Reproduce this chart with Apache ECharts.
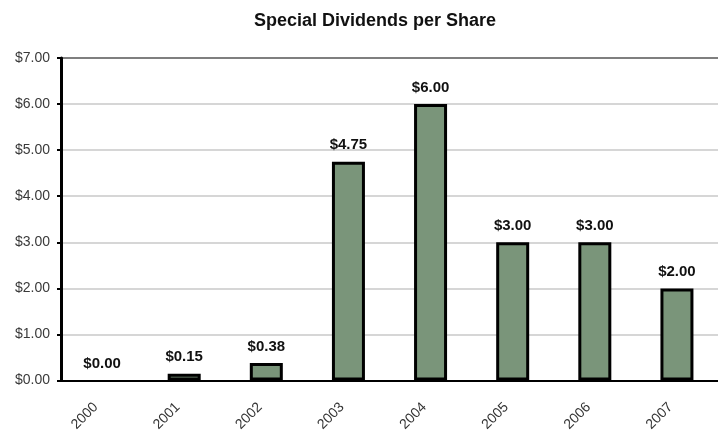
<!DOCTYPE html>
<html>
<head>
<meta charset="utf-8">
<script src="https://cdn.jsdelivr.net/npm/echarts@6/dist/echarts.min.js"></script>
<style>
  html, body { margin: 0; padding: 0; background: #fff; }
  #chart { width: 718px; height: 434px; }
</style>
</head>
<body>
<div id="chart"></div>
<script>
// Special dividends paid per share, by year
const years = ['2000', '2001', '2002', '2003', '2004', '2005', '2006', '2007'];
const dividends = [0.00, 0.15, 0.38, 4.75, 6.00, 3.00, 3.00, 2.00];

const money = v => '$' + Number(v).toFixed(2);
const FONT = 'Liberation Sans, Arial, sans-serif';

// a zero-height bar gets no outline, only its label
const barData = dividends.map(v => v === 0
  ? { value: v, itemStyle: { borderWidth: 0, opacity: 0 } }
  : v);

// light gridlines, with a darker line closing the top of the plot
const gridColors = ['#c8c8c8', '#c8c8c8', '#c8c8c8', '#c8c8c8',
                    '#c8c8c8', '#c8c8c8', '#c8c8c8', '#555555'];

const chart = echarts.init(document.getElementById('chart'));
chart.setOption({
  animation: false,
  title: {
    text: 'Special Dividends per Share',
    left: 370,
    textAlign: 'center',
    top: 7,
    textStyle: { fontFamily: FONT, fontSize: 18, fontWeight: 'bold', color: '#111' }
  },
  grid: { left: 61, right: -2, top: 58, bottom: 52, containLabel: false },
  xAxis: {
    type: 'category',
    data: years,
    axisLine: { lineStyle: { color: '#000', width: 2 } },
    axisTick: { show: false },
    axisLabel: {
      rotate: 45, margin: 18,
      padding: [0, 9, 0, 0],
      fontFamily: FONT, fontSize: 14, color: '#333'
    }
  },
  yAxis: {
    type: 'value',
    min: 0, max: 7, interval: 1,
    axisLine: { show: true, lineStyle: { color: '#000', width: 3 } },
    axisTick: { show: true, length: 4, lineStyle: { color: '#000', width: 2 } },
    axisLabel: {
      formatter: money, margin: 11,
      fontFamily: FONT, fontSize: 14, color: '#3a3a3a'
    },
    splitLine: { lineStyle: { color: gridColors, width: 1.5 } }
  },
  series: [{
    type: 'bar',
    data: barData,
    barWidth: 33,
    itemStyle: { color: '#7a957a', borderColor: '#000', borderWidth: 3 },
    label: {
      show: true, position: 'top', distance: 9,
      formatter: p => money(p.value),
      opacity: 1,
      fontFamily: FONT, fontSize: 15, fontWeight: 'bold', color: '#111'
    }
  }]
});
</script>
</body>
</html>
